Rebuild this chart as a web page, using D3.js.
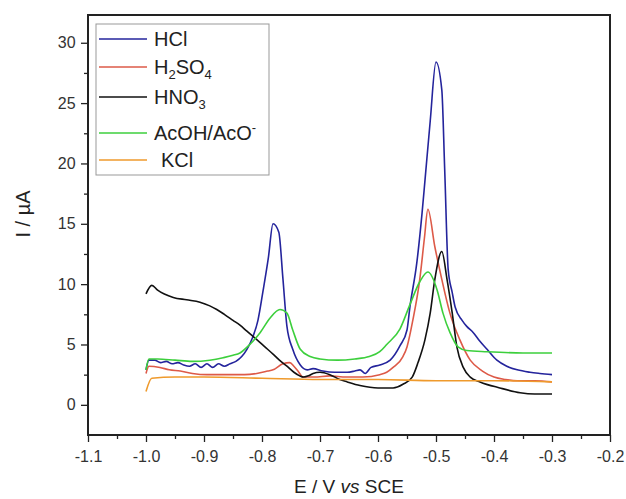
<!DOCTYPE html>
<html>
<head>
<meta charset="utf-8">
<script src="https://cdn.jsdelivr.net/npm/d3@7"></script>
<style>
  html, body { margin: 0; padding: 0; background: #fff; }
  svg { display: block; font-family: "Liberation Sans", Arial, sans-serif; }
</style>
</head>
<body>
<svg id="chart" width="626" height="499"></svg>
<script>
// ---- Data ----
const seriesNames = ["HCl", "H2SO4", "HNO3", "AcOH/AcO-", "KCl"];

const hclE = [-1.0,-0.995,-0.985,-0.975,-0.965,-0.955,-0.945,-0.935,-0.925,-0.915,-0.905,-0.895,-0.885,-0.875,-0.865,-0.855,-0.845,-0.835,-0.826,-0.816,-0.807,-0.798,-0.789,-0.781,-0.771,-0.764,-0.757,-0.747,-0.734,-0.722,-0.712,-0.695,-0.675,-0.653,-0.64,-0.631,-0.622,-0.612,-0.597,-0.579,-0.562,-0.55,-0.545,-0.533,-0.524,-0.519,-0.51,-0.5,-0.49,-0.485,-0.479,-0.472,-0.467,-0.455,-0.447,-0.436,-0.425,-0.412,-0.395,-0.378,-0.36,-0.338,-0.321,-0.3];
const hclI = [2.9,3.7,3.7,3.5,3.6,3.4,3.5,3.3,3.2,3.4,3.1,3.4,3.1,3.4,3.2,3.4,3.6,4.0,4.6,5.6,7.0,9.5,12.2,15.0,14.3,10.5,6.5,4.6,3.3,2.9,3.0,2.8,2.7,2.7,2.8,2.9,2.6,3.1,3.3,3.7,4.9,6.2,8.1,11.8,15.9,18.6,23.5,28.4,26.1,19.5,11.2,9.3,8.1,7.0,6.5,6.0,5.3,4.6,3.7,3.2,2.9,2.7,2.6,2.5];

const h2so4E = [-1.0,-0.995,-0.976,-0.96,-0.941,-0.92,-0.895,-0.87,-0.85,-0.83,-0.809,-0.79,-0.781,-0.764,-0.752,-0.745,-0.738,-0.729,-0.71,-0.683,-0.655,-0.626,-0.597,-0.585,-0.574,-0.557,-0.55,-0.54,-0.528,-0.52,-0.514,-0.502,-0.49,-0.476,-0.459,-0.441,-0.42,-0.4,-0.38,-0.36,-0.33,-0.3];
const h2so4I = [2.6,3.2,3.1,2.9,2.8,2.6,2.5,2.5,2.5,2.5,2.6,2.8,2.9,3.4,3.5,3.2,2.8,2.3,2.3,2.4,2.3,2.3,2.5,2.7,3.1,4.0,4.8,7.0,10.4,13.8,16.2,13.1,10.4,7.6,5.4,3.7,2.8,2.3,2.1,2.0,2.0,1.9];

const hno3E = [-1.0,-0.99,-0.98,-0.953,-0.93,-0.907,-0.89,-0.878,-0.865,-0.85,-0.838,-0.826,-0.809,-0.795,-0.781,-0.77,-0.757,-0.745,-0.735,-0.728,-0.72,-0.712,-0.7,-0.683,-0.666,-0.653,-0.631,-0.6,-0.574,-0.557,-0.541,-0.531,-0.519,-0.51,-0.502,-0.49,-0.481,-0.472,-0.464,-0.453,-0.441,-0.424,-0.39,-0.355,-0.33,-0.3];
const hno3I = [9.2,9.9,9.5,8.9,8.7,8.5,8.2,7.9,7.5,7.0,6.6,6.1,5.4,4.8,4.2,3.7,3.2,2.7,2.4,2.3,2.4,2.6,2.7,2.5,2.1,1.9,1.6,1.4,1.4,1.7,2.3,3.5,5.4,7.6,10.4,12.7,10.4,7.6,4.8,3.1,2.3,1.9,1.4,1.0,0.9,0.9];

const acohE = [-1.0,-0.995,-0.98,-0.95,-0.92,-0.89,-0.867,-0.85,-0.838,-0.821,-0.803,-0.786,-0.769,-0.757,-0.747,-0.734,-0.717,-0.7,-0.67,-0.64,-0.615,-0.597,-0.585,-0.562,-0.545,-0.528,-0.514,-0.498,-0.488,-0.476,-0.462,-0.447,-0.412,-0.35,-0.3];
const acohI = [2.9,3.8,3.8,3.7,3.6,3.7,3.9,4.1,4.3,5.0,6.0,7.2,7.9,7.6,6.2,4.6,4.0,3.8,3.7,3.8,4.0,4.4,5.0,6.3,8.3,10.2,11.0,9.5,7.6,6.0,4.8,4.5,4.4,4.3,4.3];

const kclE = [-1.0,-0.99,-0.95,-0.9,-0.8,-0.7,-0.6,-0.5,-0.4,-0.3];
const kclI = [1.1,2.2,2.3,2.3,2.2,2.1,2.1,2.0,2.0,1.9];

const xTicks = [-1.1,-1.0,-0.9,-0.8,-0.7,-0.6,-0.5,-0.4,-0.3,-0.2];
const yTicks = [0,5,10,15,20,25,30];

// ---- Layout ----
const svg = d3.select("#chart");
const L = 88, T = 15, R = 610, B = 435;
const x = d3.scaleLinear().domain([-1.1, -0.2]).range([L, R]);
const y = d3.scaleLinear().domain([-2.5, 32.3]).range([B, T]);

const colors = ["#24249c", "#dd5a48", "#111111", "#3ccf3c", "#ef9a2c"];
const series = [
  {E: hclE, I: hclI}, {E: h2so4E, I: h2so4I}, {E: hno3E, I: hno3I},
  {E: acohE, I: acohI}, {E: kclE, I: kclI}
];

// Axes
const xMinor = d3.range(-1.05, -0.2, 0.1);
const yMinor = d3.range(2.5, 32.3, 5);
const fmtX = d => d.toFixed(1);

const xAxis = svg.append("g").attr("transform", `translate(0,${B})`)
  .call(d3.axisBottom(x).tickValues(xTicks).tickSize(7).tickSizeOuter(0).tickFormat(fmtX));
const xAxisMinor = svg.append("g").attr("transform", `translate(0,${B})`)
  .call(d3.axisBottom(x).tickValues(xMinor).tickSize(4).tickSizeOuter(0).tickFormat(""));
const yAxis = svg.append("g").attr("transform", `translate(${L},0)`)
  .call(d3.axisLeft(y).tickValues(yTicks).tickSize(7).tickSizeOuter(0).tickFormat(d => String(d)));
const yAxisMinor = svg.append("g").attr("transform", `translate(${L},0)`)
  .call(d3.axisLeft(y).tickValues(yMinor).tickSize(4).tickSizeOuter(0).tickFormat(""));

[xAxis, xAxisMinor, yAxis, yAxisMinor].forEach(g => {
  g.select(".domain").remove();
  g.selectAll("line").attr("stroke", "#222").attr("stroke-width", 1.3);
  g.selectAll("text").attr("font-size", 16).attr("fill", "#333")
    .attr("font-family", "'Liberation Sans', Arial, sans-serif");
});
xAxis.selectAll("text").attr("dy", "1.05em");
yAxis.selectAll("text").attr("dx", "-0.15em");

// Lines
const line = d3.line().x(d => x(d[0])).y(d => y(d[1])).curve(d3.curveMonotoneX);
series.forEach((s, i) => {
  const pts = s.E.map((e, k) => [e, s.I[k]]);
  svg.append("path").datum(pts)
    .attr("d", line)
    .attr("fill", "none")
    .attr("stroke", colors[i])
    .attr("stroke-width", 1.6)
    .attr("stroke-linejoin", "round");
});

// Frame
svg.append("rect").attr("x", L).attr("y", T).attr("width", R - L).attr("height", B - T)
  .attr("fill", "none").attr("stroke", "#222").attr("stroke-width", 2);

// Axis titles
const xt = svg.append("text").attr("x", 349).attr("y", 493)
  .attr("text-anchor", "middle").attr("font-size", 19).attr("fill", "#222");
xt.append("tspan").text("E / V ");
xt.append("tspan").attr("font-style", "italic").text("vs");
xt.append("tspan").text(" SCE");

svg.append("text").attr("transform", `translate(30,214) rotate(-90)`)
  .attr("text-anchor", "middle").attr("font-size", 20).attr("fill", "#222")
  .text("I / \u00B5A");

// Legend
const legendY = [39, 67, 97, 133, 160];
const lg = svg.append("g");
lg.append("rect").attr("x", 96).attr("y", 24).attr("width", 173).attr("height", 151)
  .attr("fill", "#fff").attr("stroke", "#999").attr("stroke-width", 1);
seriesNames.forEach((name, i) => {
  const yy = legendY[i];
  lg.append("line").attr("x1", 99).attr("x2", 147).attr("y1", yy).attr("y2", yy)
    .attr("stroke", colors[i]).attr("stroke-width", 1.3);
  const t = lg.append("text").attr("x", i === 4 ? 161 : 154).attr("y", yy + 7)
    .attr("font-size", 20).attr("fill", "#222");
  if (name === "H2SO4") {
    t.append("tspan").text("H");
    t.append("tspan").attr("font-size", 13).attr("dy", 5).text("2");
    t.append("tspan").attr("dy", -5).text("SO");
    t.append("tspan").attr("font-size", 13).attr("dy", 5).text("4");
  } else if (name === "HNO3") {
    t.append("tspan").text("HNO");
    t.append("tspan").attr("font-size", 13).attr("dy", 5).text("3");
  } else if (name === "AcOH/AcO-") {
    t.append("tspan").text("AcOH/AcO");
    t.append("tspan").attr("font-size", 13).attr("dy", -8).text("-");
  } else {
    t.text(name);
  }
});
</script>
</body>
</html>
